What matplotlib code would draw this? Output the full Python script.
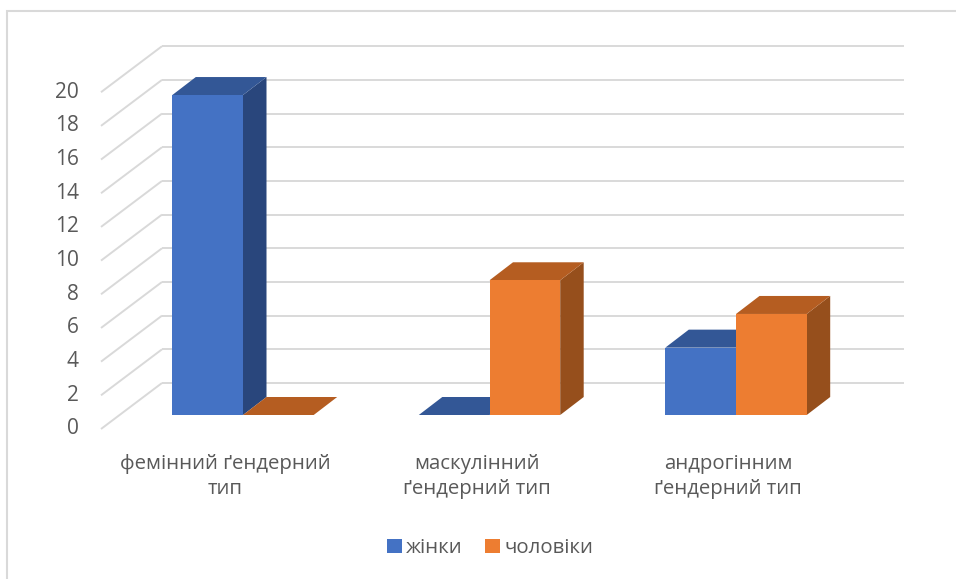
import matplotlib.pyplot as plt
from matplotlib.patches import Polygon, Rectangle, Patch

plt.rcParams['font.family'] = ['Open Sans', 'DejaVu Sans']

# Дані
categories = ['фемінний ґендерний\nтип', 'маскулінний\nґендерний тип', 'андрогінним\nґендерний тип']
women = [19, 0, 4]
men = [0, 8, 6]
series_names = ['жінки', 'чоловіки']
y_ticks = [0, 2, 4, 6, 8, 10, 12, 14, 16, 18, 20]

# кольори: передня грань, верх, бік
blue = ('#4472C4', '#335796', '#29467C')
orange = ('#ED7D31', '#B55D21', '#964F1C')
grid_c = '#D9D9D9'
text_c = '#595959'

W, H = 956, 579
fig = plt.figure(figsize=(W / 100, H / 100), dpi=100)
ax = fig.add_axes([0, 0, 1, 1])

# розмітка в пікселях: центр першої групи, крок між групами, нуль і масштаб значень
x0_px, step_px = 243, 246.5
y0_px, unit_px = 415, 16.84
ax.set_xlim(-x0_px / step_px, (W - x0_px) / step_px)
ax.set_ylim((y0_px - H) / unit_px, y0_px / unit_px)
ax.axis('off')


def px(dx, dy):
    return dx / step_px, dy / unit_px


bar_w = px(70.7, 0)[0]
dep_x, dep_y = px(23.5, 18)

# стінки: лівий край (перед/зад) і права межа сітки
wall_fx, wall_fy = px(101 - x0_px, -14)
wall_bx, wall_by = px(162 - x0_px, 32)
grid_right = px(904 - x0_px, 0)[0]

for v in y_ticks:
    ax.plot([wall_fx, wall_bx], [v + wall_fy, v + wall_by], color=grid_c, lw=1.4, zorder=1,
            solid_capstyle='butt')
    ax.plot([wall_bx, grid_right], [v + wall_by, v + wall_by], color=grid_c, lw=1.4, zorder=1,
            solid_capstyle='butt')
    ax.text(px(79 - x0_px, 0)[0], v + wall_fy, str(v), ha='right', va='center',
            fontsize=15, color=text_c)


def bar3d(x, v, cols, z):
    front = Rectangle((x, 0), bar_w, v, facecolor=cols[0], edgecolor='none', zorder=z)
    top = Polygon([(x, v), (x + bar_w, v), (x + bar_w + dep_x, v + dep_y), (x + dep_x, v + dep_y)],
                  closed=True, facecolor=cols[1], edgecolor='none', zorder=z)
    side = Polygon([(x + bar_w, 0), (x + bar_w, v), (x + bar_w + dep_x, v + dep_y),
                    (x + bar_w + dep_x, dep_y)],
                   closed=True, facecolor=cols[2], edgecolor='none', zorder=z)
    ax.add_patch(side)
    ax.add_patch(top)
    ax.add_patch(front)


z = 2
for i in range(len(categories)):
    bar3d(i - bar_w, women[i], blue, z)
    bar3d(i, men[i], orange, z + 1)
    z += 2

# підписи категорій
lab_dx = [-18, -12.5, -8]
for i, lab in enumerate(categories):
    ax.text(i + px(lab_dx[i], 0)[0], px(0, y0_px - 476.5)[1], lab, ha='center', va='center',
            multialignment='center', fontsize=14.7, color=text_c, linespacing=1.33)

handles = [Patch(facecolor=blue[0]), Patch(facecolor=orange[0])]
fig.legend(handles, series_names, loc='center', bbox_to_anchor=(490 / W, 1 - 548 / H),
           ncol=2, frameon=False, fontsize=14.7, labelcolor=text_c,
           handlelength=0.75, handleheight=0.65, handletextpad=0.2, columnspacing=1.1)

# рамка області діаграми
fig.patches.append(Rectangle((7 / W, -0.1), 1.2, 1 - 11 / H + 0.1, transform=fig.transFigure,
                             fill=False, edgecolor=grid_c, lw=1.5))

fig.savefig('out.png', dpi=100)
